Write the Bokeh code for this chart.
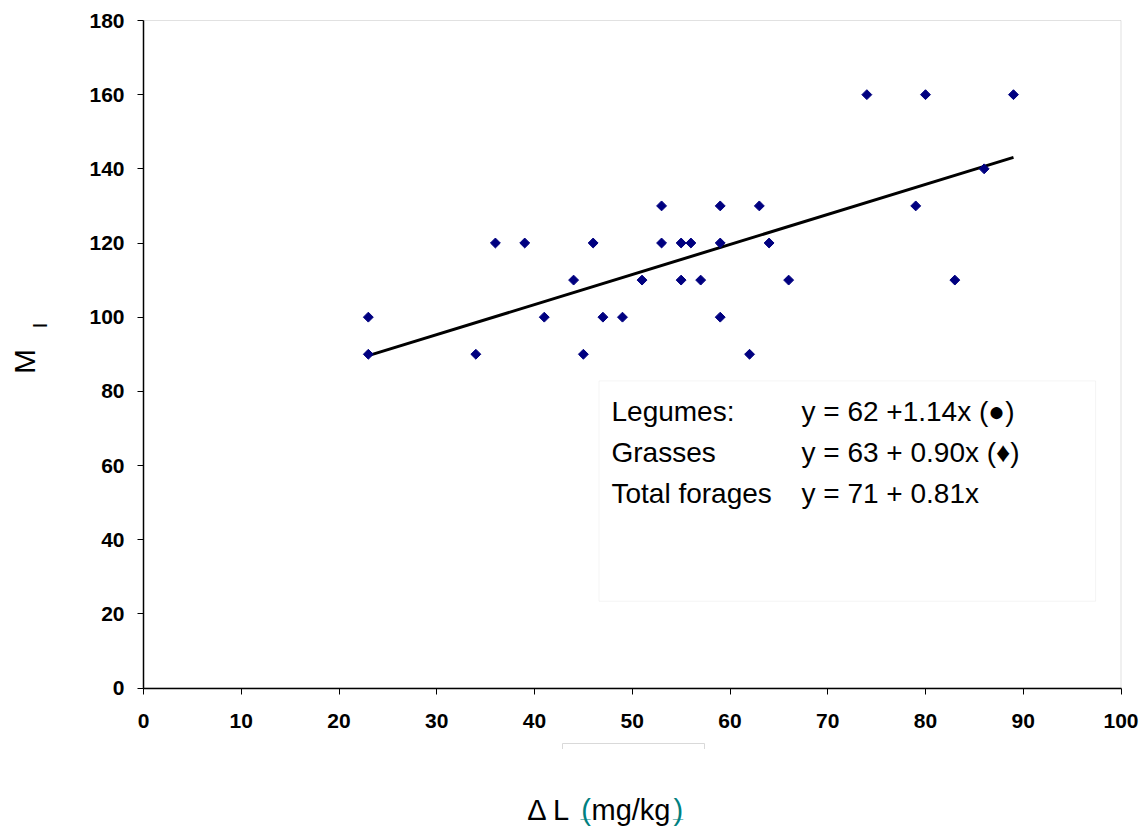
import numpy as np
from bokeh.plotting import figure
from bokeh.models import Label, BoxAnnotation, FixedTicker, Range1d
from bokeh.embed import file_html
from bokeh.resources import INLINE

# ---- data ----
x_vals = [23, 23, 34, 36, 39, 41, 44, 45, 46, 47, 49, 51, 53, 53, 55, 55,
          56, 57, 59, 59, 59, 62, 63, 64, 66, 74, 79, 80, 83, 86, 89]
y_vals = [100, 90, 90, 120, 120, 100, 110, 90, 120, 100, 100, 110, 130, 120,
          120, 110, 120, 110, 130, 120, 100, 90, 130, 120, 110, 160, 130, 160,
          110, 140, 160]
x_ticks = list(range(0, 101, 10))
y_ticks = list(range(0, 181, 20))
fit_intercept = 71
fit_slope = 0.81
legend_names = ["Legumes:", "Grasses", "Total forages"]
legend_eqs = ["y = 62 +1.14x (\u25cf)", "y = 63 + 0.90x (\u2666)", "y = 71 + 0.81x"]

FONT = "Liberation Sans"
W, H = 1146, 830
# pixel geometry of the plotting area inside the page
PL, PR, PT, PB = 143.0, 1120.5, 20.0, 687.5
X0, X1, Y0, Y1 = 0, 100, 0, 180
sx = (PR - PL) / (X1 - X0)
sy = (PB - PT) / (Y1 - Y0)
xr = Range1d(X0 - PL / sx, X1 + (W - PR) / sx)
yr = Range1d(Y0 - (H - PB) / sy, Y1 + PT / sy)

p = figure(frame_width=W, frame_height=H, x_range=xr, y_range=yr,
           output_backend="svg", toolbar_location=None,
           min_border=0, min_border_left=0, min_border_right=0,
           min_border_top=0, min_border_bottom=0)
p.xgrid.visible = False
p.ygrid.visible = False
p.outline_line_color = None
p.background_fill_color = "white"
p.border_fill_color = "white"

for ax in (p.xaxis[0], p.yaxis[0]):
    ax.axis_line_color = "black"
    ax.axis_line_width = 1.5
    ax.major_tick_line_color = "black"
    ax.major_tick_line_width = 1
    ax.major_tick_out = 6
    ax.major_tick_in = 0
    ax.minor_tick_line_color = None
    ax.major_label_text_font = FONT
    ax.major_label_text_font_style = "bold"
    ax.major_label_text_font_size = "21px"
    ax.major_label_text_color = "black"

p.xaxis.ticker = FixedTicker(ticks=x_ticks)
p.yaxis.ticker = FixedTicker(ticks=y_ticks)
p.xaxis.fixed_location = Y0
p.yaxis.fixed_location = X0
p.xaxis.bounds = (X0, X1)
p.yaxis.bounds = (Y0, Y1)
p.xaxis.major_label_standoff = 20
p.yaxis.major_label_standoff = 13

# plot-area border (top / right in light grey)
p.add_layout(BoxAnnotation(left=X0, right=X1, bottom=Y0, top=Y1,
                           fill_color=None, fill_alpha=0,
                           line_color="#9a9a9a", line_width=1,
                           level="underlay"))

# legend box
p.add_layout(BoxAnnotation(left=46.6, right=97.4, bottom=23.4, top=82.8,
                           fill_color="white", fill_alpha=1.0,
                           line_color="#d9d9d9", line_width=1,
                           level="underlay"))

# trend line of total forages
fx = np.array([min(x_vals), max(x_vals)], dtype=float)
fy = fit_intercept + fit_slope * fx
p.line(fx, fy, line_color="black", line_width=3)

# points
p.scatter(x_vals, y_vals, marker="square", size=7, angle=np.pi / 4,
          fill_color="#000080", line_color="#000080")

# legend text
row_y = [74.5, 63.4, 52.4]
for name, eq, yy in zip(legend_names, legend_eqs, row_y):
    p.add_layout(Label(x=(611 - PL) / sx, y=yy, text=name, text_font=FONT,
                       text_font_size="28px", text_baseline="middle",
                       text_align="left", text_color="black"))
    p.add_layout(Label(x=(801 - PL) / sx, y=yy, text=eq, text_font=FONT,
                       text_font_size="28px", text_baseline="middle",
                       text_align="left", text_color="black"))

# y axis title: M with subscript I
p.add_layout(Label(x=(23.5 - PL) / sx, y=(PB - 361) / sy, text="M",
                   angle=np.pi / 2, text_font=FONT, text_font_size="30px",
                   text_align="center", text_baseline="middle",
                   text_color="black"))
p.add_layout(Label(x=(39.5 - PL) / sx, y=(PB - 325) / sy, text="I",
                   angle=np.pi / 2, text_font=FONT, text_font_size="20px",
                   text_align="center", text_baseline="middle",
                   text_color="black"))

# x axis title: Δ L (mg/kg) with teal parentheses
teal = "#008080"
xl_y = (PB - 809) / sy
pieces = [("\u0394 L ", 526.7, "black"), ("(", 580.7, teal),
          ("mg/kg", 591.0, "black"), (")", 673.0, teal)]
for txt, px, col in pieces:
    p.add_layout(Label(x=(px - PL) / sx, y=xl_y, text=txt, text_font=FONT,
                       text_font_size="29px", text_align="left",
                       text_baseline="alphabetic", text_color=col))
for px in (580.0, 672.5):
    p.add_layout(Label(x=(px - PL) / sx, y=(PB - 811) / sy, text="_",
                       text_font=FONT, text_font_size="18px",
                       text_font_style="bold", text_align="left",
                       text_baseline="alphabetic", text_color=teal))

# faint text-box edge below the axis
p.line([(562 - PL) / sx, (562 - PL) / sx, (704 - PL) / sx, (704 - PL) / sx],
       [(PB - 748.5) / sy, (PB - 743) / sy, (PB - 743) / sy, (PB - 748.5) / sy],
       line_color="#d9d9d9", line_width=1)

open("out.html", "w").write(file_html(p, INLINE))
